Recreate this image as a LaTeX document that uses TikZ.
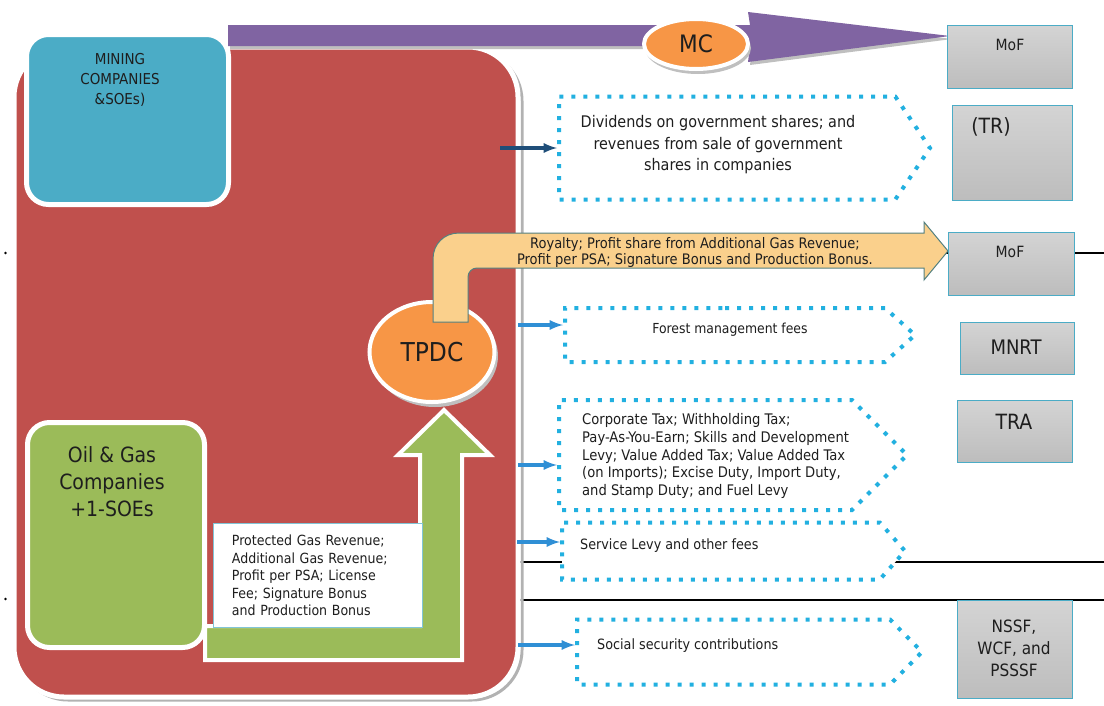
\documentclass[tikz,border=0pt]{standalone}
\usepackage{fontspec}
\setmainfont{DejaVu Sans Condensed}
\usetikzlibrary{arrows,shapes.geometric,shapes.symbols}

\definecolor{boxred}{HTML}{C0504D}
\definecolor{minblue}{HTML}{4BACC6}
\definecolor{oilgreen}{HTML}{9BBB59}
\definecolor{tpdcorange}{HTML}{F79646}
\definecolor{mcpurple}{HTML}{8064A2}
\definecolor{royal}{HTML}{FAD08C}
\definecolor{dotcyan}{HTML}{22B0E0}
\definecolor{navy}{HTML}{1F4E79}
\definecolor{flowblue}{HTML}{2F8FD5}
\definecolor{ink}{HTML}{1E1E1E}

\tikzset{
  company/.style={draw=white, line width=5pt, rounded corners=22pt, anchor=north west, inner sep=0pt},
  oval/.style={ellipse, fill=tpdcorange, draw=white, line width=4pt, text=ink, inner sep=0pt},
  dotsig/.style={signal, signal to=east, draw=dotcyan, fill=white, line width=4pt,
    dash pattern=on 4pt off 8pt, inner sep=0pt, anchor=west},
  govbox/.style={draw=minblue, line width=1pt, top color=black!17, bottom color=black!26,
    inner sep=0pt, anchor=north west},
  flow/.style={draw=flowblue, line width=3.5pt, -latex},
  txt/.style={text=ink, inner sep=0pt}
}

\begin{document}
\begin{tikzpicture}[x=1pt,y=-1pt]
\useasboundingbox (0,0) rectangle (1104,705);
% thin black rules behind everything
\draw[black, line width=1.3pt] (12,253) -- (1104,253);
\draw[black, line width=1.3pt] (12,600) -- (1104,600);
\draw[black, line width=1.3pt] (515,562) -- (1104,562);
\fill (5.5,253) circle (1.3pt);
\fill (5.5,599) circle (1.3pt);

% big red block
\draw[black!30, line width=3pt, rounded corners=50pt] (18,51) rectangle (522,700);
\draw[fill=boxred, draw=white, line width=5pt, rounded corners=50pt] (14,47) rectangle (518,697);

% companies
\node[company, fill=minblue, minimum width=202pt, minimum height=170pt] (mining) at (24,32) {};
\node[txt, align=center, font=\fontsize{15}{20}\selectfont] (miningtxt) at (120,80) {MINING\\COMPANIES\\\&SOEs)};
\node[company, fill=oilgreen, minimum width=177pt, minimum height=225pt] (oilgas) at (25,420) {};
\node[txt, align=center, font=\fontsize{21}{27}\selectfont] (oilgastxt) at (112,482) {Oil \& Gas\\Companies\\+1-SOEs};

% purple arrow to MoF
\fill[black!25] (230,28) -- (752,28) -- (750,15) -- (952,39) -- (750,65) -- (752,49) -- (230,49) -- cycle;
\fill[mcpurple] (228,25) -- (750,25) -- (748,12) -- (950,36) -- (748,62) -- (750,46) -- (228,46) -- cycle;
\fill[black!25] (698,48) ellipse (53pt and 26pt);
\node[oval, minimum width=104pt, minimum height=50pt, font=\fontsize{24}{24}\selectfont] (mc) at (696,44) {MC};

% green arrow up to TPDC
\filldraw[fill=oilgreen, draw=white, line width=4pt] (205,626) -- (420,626) -- (420,455) -- (398,455)
  -- (444,410) -- (490,455) -- (462,455) -- (462,660) -- (205,660) -- cycle;
\node[draw=minblue!70, line width=0.8pt, fill=white, anchor=north west, minimum width=209pt,
  minimum height=104pt, inner xsep=17pt, text width=172pt, align=left, text=ink,
  font=\fontsize{14}{17.5}\selectfont] (gasrev) at (213,523)
  {Protected Gas Revenue;\\Additional Gas Revenue;\\Profit per PSA; License\\Fee; Signature Bonus\\and Production Bonus};

\fill[black!25] (435,356) ellipse (63pt and 51pt);
\node[oval, minimum width=125pt, minimum height=100pt, font=\fontsize{26}{26}\selectfont] (tpdc) at (432,352) {TPDC};

% yellow bent arrow
\filldraw[fill=royal, draw=teal!35!gray, line width=1pt] (433,322) -- (433,259)
  .. controls (433,244) and (444,233) .. (459,233) -- (924,233) -- (924,222) -- (948,251)
  -- (924,280) -- (924,268) -- (477,268) .. controls (472,268) and (468,272) .. (468,277)
  -- (468,322) -- cycle;
\node[txt, align=center, font=\fontsize{14.5}{16}\selectfont] (roytxt) at (695,252)
  {Royalty; Profit share from Additional Gas Revenue;\\Profit per PSA; Signature Bonus and Production Bonus.};

% revenue streams
\node[dotsig, minimum width=371pt, minimum height=103pt, signal pointer angle=112] (div) at (557,148) {};
\node[txt, align=center, font=\fontsize{16}{21.5}\selectfont] (divtxt) at (718,145)
  {Dividends on government shares; and\\revenues from sale of government\\shares in companies};
\node[dotsig, minimum width=350pt, minimum height=54pt, signal pointer angle=84] (forest) at (563,335) {};
\node[txt, font=\fontsize{13.8}{16}\selectfont] (foresttxt) at (730,330) {Forest management fees};
\node[dotsig, minimum width=348pt, minimum height=110pt, signal pointer angle=90] (corp) at (557,455) {};
\node[txt, anchor=west, align=left, font=\fontsize{14.6}{17.8}\selectfont] (corptxt) at (582,456)
  {Corporate Tax; Withholding Tax;\\Pay-As-You-Earn; Skills and Development\\Levy; Value Added Tax; Value Added Tax\\(on Imports); Excise Duty, Import Duty,\\and Stamp Duty; and Fuel Levy};
\node[dotsig, minimum width=343pt, minimum height=57pt, signal pointer angle=97] (serv) at (560,551) {};
\node[txt, anchor=west, font=\fontsize{14.2}{16}\selectfont] (servtxt) at (580,546) {Service Levy and other fees};
\node[dotsig, minimum width=345pt, minimum height=65pt, signal pointer angle=91] (social) at (575,652) {};
\node[txt, anchor=west, font=\fontsize{14.2}{16}\selectfont] (socialtxt) at (597,646) {Social security contributions};

\draw[flow, draw=navy] ([xshift=-57pt]div.west) -- (div.west);
\draw[flow] ([xshift=-45pt,yshift=10pt]forest.west) -- ([yshift=10pt]forest.west);
\draw[flow] ([xshift=-39pt,yshift=-10pt]corp.west) -- ([yshift=-10pt]corp.west);
\draw[flow] ([xshift=-43pt,yshift=9pt]serv.west) -- ([yshift=9pt]serv.west);
\draw[flow] ([xshift=-57pt,yshift=7pt]social.west) -- ([yshift=7pt]social.west);

% receiving institutions
\node[govbox, minimum width=125pt, minimum height=63pt] (mof) at (947,25) {};
\node[txt, font=\fontsize{15.5}{17}\selectfont] (moftxt) at (1010,45) {MoF};
\node[govbox, minimum width=120pt, minimum height=95pt] (tr) at (952,105) {};
\node[txt, font=\fontsize{21}{23}\selectfont] (trtxt) at (991,127) {(TR)};
\node[govbox, minimum width=126pt, minimum height=63pt] (mofb) at (948,232) {};
\node[txt, font=\fontsize{15.5}{17}\selectfont] (mofbtxt) at (1010,252) {MoF};
\node[govbox, minimum width=114pt, minimum height=52pt] (mnrt) at (960,322) {};
\node[txt, font=\fontsize{20}{22}\selectfont] (mnrttxt) at (1016,347) {MNRT};
\node[govbox, minimum width=115pt, minimum height=62pt] (tra) at (957,400) {};
\node[txt, font=\fontsize{21}{23}\selectfont] (tratxt) at (1014,422) {TRA};
\node[govbox, minimum width=115pt, minimum height=98pt] (nssf) at (957,600) {};
\node[txt, align=center, font=\fontsize{17}{22}\selectfont] (nssftxt) at (1014,648) {NSSF,\\WCF, and\\PSSSF};
\end{tikzpicture}
\end{document}
